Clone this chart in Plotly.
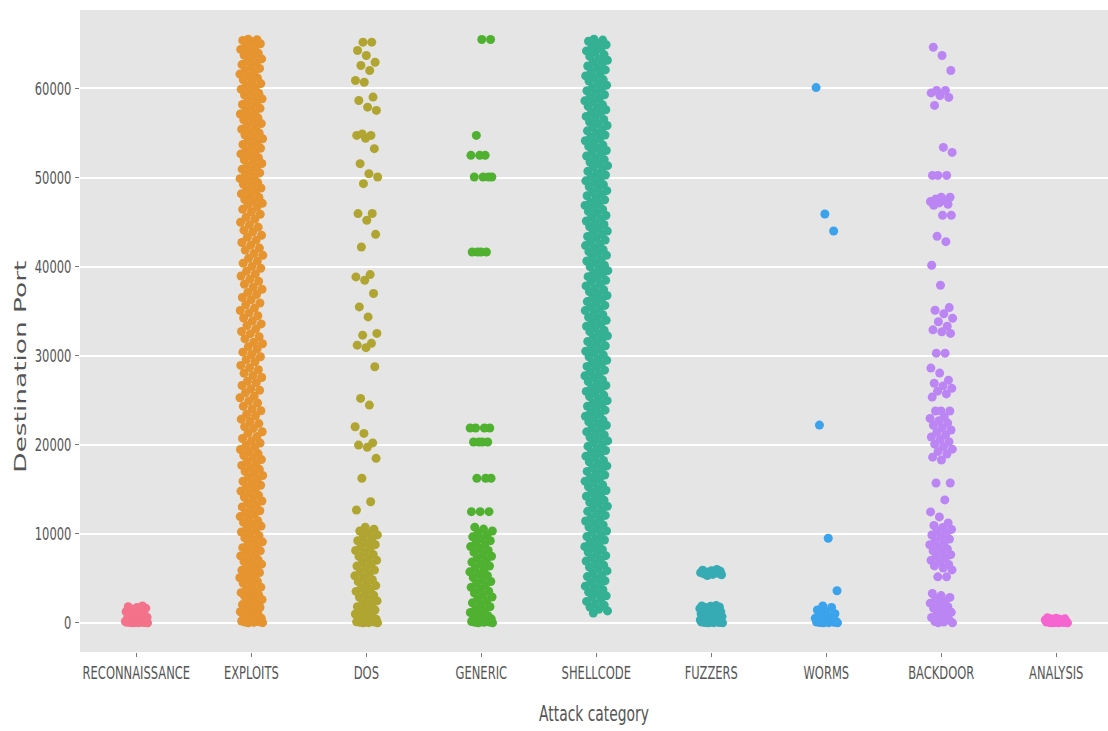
import plotly.graph_objects as go

# Attack categories on the x axis and their marker colours
categories = ["RECONNAISSANCE", "EXPLOITS", "DOS", "GENERIC", "SHELLCODE",
              "FUZZERS", "WORMS", "BACKDOOR", "ANALYSIS"]
palette = ["#f4728a", "#e5942f", "#b0a530", "#50b131", "#34b093",
           "#37abb4", "#3ba3ec", "#bb85f4", "#f564d0"]

# Destination ports observed for each attack category
reconnaissance_ports = [0, 0, 21, 22, 23, 25, 53, 53, 80, 80, 111, 135, 139, 143,
                        161, 199, 389, 443, 445, 500, 514, 587, 631, 873, 993,
                        1025, 1110, 1241, 1433, 1521, 1645, 1723, 1812, 1900]

exploits_ports = [
    0, 21, 53, 80, 111, 143, 199, 389, 445, 513, 631, 802, 993, 1080, 1241, 1433,
    1521, 1723, 1900, 2049, 2121, 2381, 2598, 2727, 3000, 3128, 3306, 3389, 3632,
    3817, 4000, 4243, 4444, 4659, 4848, 5060, 5190, 5432, 5631, 5800, 5900, 6112,
    6379, 6588, 6667, 6881, 7070, 7292, 7510, 7741, 8000, 8080, 8283, 8443, 8654,
    8888, 9090, 9325, 9532, 9784, 9999, 10203, 10431, 10616, 10862, 11055, 11274,
    11460, 11711, 11925, 12174, 12345, 12581, 12790, 13011, 13240, 13465, 13677,
    13912, 14128, 14337, 14580, 14791, 15002, 15236, 15441, 15680, 15893, 16112,
    16334, 16548, 16790, 17001, 17232, 17445, 17676, 17890, 18112, 18330, 18574,
    18790, 19004, 19230, 19459, 19687, 19903,
    20180, 20395, 20702, 20911, 21290, 21455, 21830, 22014, 22367, 22610, 22871,
    23240, 23415, 23809, 24033, 24320, 24688, 24901, 25277, 25430, 25812, 26105,
    26290, 26644, 26960, 27133, 27550, 27781, 28020, 28412, 28650, 28903, 29311,
    29540, 29876, 30140, 30388, 30760, 30985, 31330, 31502, 31877, 32120, 32468,
    32711, 33010, 33390, 33562, 33905, 34230, 34478, 34810, 35066, 35340, 35702,
    35911, 36280, 36533, 36870, 37104, 37455, 37690, 38012, 38340, 38571, 38944,
    39180, 39466, 39812, 40030, 40377, 40620, 40930, 41266, 41480, 41850, 42077,
    42390, 42705, 42960, 43288, 43513, 43870, 44092, 44430, 44688, 44975, 45310,
    45544, 45877, 46120, 46431, 46702, 46910,
    47105, 47318, 47522, 47760, 47951, 48170, 48392, 48580, 48815, 49020, 49233,
    49441, 49667, 49870, 50096, 50301, 50518, 50730, 50944, 51159, 51362, 51580,
    51790, 52003, 52221, 52430, 52651, 52860, 53071, 53290, 53498, 53714, 53925,
    54140, 54352, 54567, 54780, 54993, 55208, 55420, 55633, 55848, 56060, 56275,
    56488, 56700, 56914, 57128, 57340, 57555, 57768, 57980, 58195, 58410, 58622,
    58836, 59050, 59263, 59477, 59690, 59904, 60118, 60330, 60545, 60758, 60970,
    61186, 61400, 61612, 61826, 62040, 62253, 62466, 62680, 62894, 63107, 63320,
    63534, 63748, 63961, 64175, 64388, 64600, 64815, 65028, 65240, 65389, 65480,
    65535]

dos_ports = [
    0, 0, 21, 53, 80, 80, 111, 143, 199, 389, 445, 520, 631, 802, 993, 1080, 1241,
    1433, 1645, 1812, 2049, 2233, 2458, 2660, 2875, 3090, 3306, 3530, 3744, 3960,
    4180, 4396, 4620, 4833, 5060, 5271, 5490, 5712, 5931, 6150, 6367, 6588, 6803,
    7020, 7245, 7460, 7681, 7900, 8118, 8340, 8556, 8777, 8995, 9214, 9432, 9650,
    9871, 10088, 10304, 10520, 10740,
    12670, 13600, 16230, 18470, 19700, 19960, 20200, 21270, 22020, 24450, 25200,
    28750, 30900, 31180, 31380, 32300, 32500, 34350, 35470, 36980, 38470, 38840,
    39100, 42200, 43620, 45200, 45950, 45960, 49310, 50060, 50430, 51560, 53240,
    54400, 54730, 54730, 54900, 57540, 57900, 58650, 59030, 60700, 60900, 62020,
    62580, 62950, 63700, 64260, 65200, 65200]

generic_ports = [
    0, 0, 53, 53, 80, 111, 143, 199, 311, 445, 520, 631, 793, 1000, 1164, 1373,
    1590, 1801, 2030, 2242, 2455, 2680, 2894, 3110, 3333, 3547, 3766, 3980, 4200,
    4419, 4636, 4850, 5073, 5290, 5508, 5725, 5944, 6160, 6380, 6600, 6815, 7035,
    7250, 7470, 7690, 7906, 8125, 8343, 8560, 8780, 8998, 9215, 9436, 9652, 9870,
    10090, 10307, 10525, 10740,
    12480, 12480, 12480, 16230, 16230, 16230, 20300, 20300, 20300, 20300,
    21870, 21870, 21870, 21870, 41640, 41640, 41640, 41640, 50060, 50060, 50060,
    50060, 52490, 52490, 52490, 54730, 65500, 65500]

shellcode_ports = [
    1104, 1335, 1513, 1777, 1976, 2118, 2405, 2610, 2861, 3027, 3250, 3440, 3714,
    3872, 4113, 4325, 4544, 4729, 4989, 5192, 5339, 5620, 5829, 6075, 6246, 6474,
    6660, 6930, 7092, 7328, 7544, 7769, 7950, 8209, 8405, 8555, 8838, 9039, 9294,
    9462, 9682, 9875, 10152, 10307, 10551, 10760, 10993, 11169, 11431, 11632,
    11777, 12062, 12269, 12518, 12681, 12907, 13095, 13367, 13527, 13766, 13980,
    14209, 14392, 14658, 14855, 14995, 15284, 15487, 15740, 15910, 16131, 16323,
    16599, 16755, 16998, 17208, 17439, 17618, 17881, 18081, 18224, 18510, 18716,
    18966, 19131, 19355, 19544, 19817, 19976, 20216, 20429, 20656, 20838, 21099,
    21297, 21445, 21729, 21933, 22185, 22352, 22574, 22765, 23040, 23197, 23439,
    23650, 23880, 24057, 24322, 24520, 24661, 24949, 25154, 25405, 25571, 25794,
    25984, 26258, 26416, 26657, 26869, 27088, 27273, 27533, 27736, 27883, 28164,
    28373, 28619, 28790, 29018, 29204, 29474, 29636, 29872, 30088, 30313, 30494,
    30753, 30949, 31099, 31382, 31583, 31838, 32006, 32226, 32419, 32696, 32851,
    33095, 33304, 33537, 33713, 33975, 34176, 34321, 34606, 34813, 35062, 35225,
    35451, 35639, 35911, 36071, 36310, 36524, 36753, 36936, 37202, 37399, 37539,
    37828, 38031, 38284, 38454, 38675, 38867, 39143, 39299, 39542, 39752, 39983,
    40162, 40425, 40625, 40768, 41054, 41260, 41510, 41675, 41899, 42088, 42361,
    42520, 42760, 42973, 43200, 43382, 43643, 43841, 43989, 44273, 44477, 44729,
    44896, 45118, 45309, 45584, 45741, 45983, 46194, 46424, 46601, 46866, 47064,
    47205, 47493, 47698, 47949, 48115, 48338, 48528, 48802, 48960, 49201, 49413,
    49632, 49817, 50077, 50280, 50427, 50708, 50917, 51163, 51334, 51562, 51748,
    52018, 52180, 52416, 52632, 52857, 53038, 53297, 53493, 53643, 53926, 54127,
    54382, 54550, 54770, 54963, 55240, 55395, 55639, 55848, 56081, 56257, 56519,
    56720, 56865, 57150, 57357, 57606, 57769, 57995, 58183, 58455, 58615, 58854,
    59068, 59297, 59480, 59746, 59943, 60083, 60372, 60575, 60828, 60998, 61219,
    61411, 61687, 61843, 62086, 62296, 62527, 62706, 62969, 63169, 63312, 63598,
    63804, 64054, 64219, 64443, 64632, 64905, 65064, 65304, 65432, 65535]

fuzzers_ports = [
    0, 0, 21, 23, 25, 53, 80, 111, 135, 139, 143, 179, 199, 254, 311, 389, 443,
    445, 500, 514, 587, 631, 700, 765, 873, 902, 993, 1024, 1080, 1166, 1241, 1300,
    1433, 1490, 1521, 1600, 1645, 1723, 1790, 1863, 1900, 1935,
    5300, 5400, 5432, 5500, 5555, 5600, 5631, 5666, 5700, 5800, 5850, 5900, 6000]

worms_ports = [0, 0, 21, 25, 53, 80, 80, 111, 135, 139, 143, 199, 311, 445, 514,
               631, 873, 1024, 1241, 1433, 1723, 1900,
               3600, 9500, 22200, 44000, 45900, 60100]

backdoor_ports = [
    0, 0, 80, 139, 311, 445, 600, 789, 995, 1190, 1402, 1630, 1815, 2003, 2210,
    2420, 2644, 2850, 3061, 3290, 5160, 5160,
    5940, 6150, 6390, 6555, 6810, 7020, 7230, 7466, 7650, 7890, 8075, 8300, 8510,
    8760, 8950, 9180, 9400, 9620, 9855, 10040, 10270, 10490, 10700, 10930, 11210,
    11890, 12450, 13800, 15700, 15700,
    18280, 18600, 18950, 19230, 19500, 19800, 20060, 20330, 20580, 20860, 21100,
    21390, 21650, 21900, 22180, 22430, 22700, 22950, 23100, 23780, 23780, 23780,
    25350, 25700, 26010, 26330, 26600, 26900, 27250, 28040, 28600, 30280, 30280,
    32500, 32670, 32900, 33300, 33800, 34200, 34700, 35100, 35400,
    37900, 40150, 42800, 43400, 45760, 45760,
    46880, 47000, 47150, 47300, 47450, 47600, 47780, 47780,
    50240, 50240, 50240, 52820, 53380, 58100, 59000, 59200, 59500, 59780, 59780,
    62020, 63700, 64630]

analysis_ports = [0, 0, 0, 21, 25, 53, 80, 80, 111, 135, 139, 143, 199, 256, 311,
                  389, 443, 445, 514, 555]

ports_by_category = [reconnaissance_ports, exploits_ports, dos_ports,
                     generic_ports, shellcode_ports, fuzzers_ports, worms_ports,
                     backdoor_ports, analysis_ports]

# Horizontal spread of each strip (in category units) and the
# low-discrepancy step used to place points across it
JITTER = 0.1
GOLDEN = 0.6180339887

fig = go.Figure()
for i, (name, ports, color) in enumerate(zip(categories, ports_by_category, palette)):
    ys = sorted(ports)
    xs = [i + ((k * GOLDEN + 0.37) % 1.0 - 0.5) * 2 * JITTER for k in range(len(ys))]
    fig.add_trace(go.Scatter(
        x=xs, y=ys, mode="markers", name=name, showlegend=False,
        marker=dict(color=color, size=9, line=dict(width=0)),
    ))

text_grey = "#555555"
tick_font = dict(family="DejaVu Sans", size=18, color=text_grey)

fig.update_layout(
    template="none",
    width=1108, height=731,
    margin=dict(l=80, r=0, t=10, b=79),
    paper_bgcolor="white",
    plot_bgcolor="#E5E5E5",
    showlegend=False,
    xaxis=dict(
        range=[-0.49, 8.45], tickmode="array", tickvals=list(range(len(categories))),
        ticktext=categories, tickangle=0, showgrid=False, zeroline=False,
        showline=False, ticks="outside", ticklen=4, tickwidth=1,
        tickcolor="#777777", tickfont=tick_font, automargin=False,
        title=dict(text="Attack category",
                   font=dict(family="DejaVu Sans", size=22, color=text_grey),
                   standoff=24),
    ),
    yaxis=dict(
        range=[-3277, 68812], tickmode="linear", tick0=0, dtick=10000,
        tickformat="d", showgrid=True, gridcolor="white", gridwidth=1.8,
        zeroline=False, showline=False,
        ticks="outside", ticklen=4, tickwidth=1, tickcolor="#777777",
        tickfont=tick_font, automargin=False,
    ),
    annotations=[dict(
        text="Destination Port", textangle=-90, showarrow=False,
        xref="paper", yref="paper", x=-0.0574, y=0.4455,
        xanchor="center", yanchor="middle",
        font=dict(family="DejaVu Sans", size=16, color=text_grey),
    )],
)

# Narrow the horizontal labels and stretch the rotated y title lengthwise
label_shape_js = """
function fitText(sel, factor, fixed) {
  document.querySelectorAll(sel).forEach(function (t) {
    var w = fixed ? fixed : t.getComputedTextLength() * factor;
    t.setAttribute('textLength', w.toFixed(1));
    t.setAttribute('lengthAdjust', 'spacingAndGlyphs');
  });
}
fitText('.xtick text', 0.64);
fitText('.ytick text', 0.64);
fitText('.xtitle', 0.63);
fitText('.annotation-text', 1, 212);
"""
fig.write_html("out.html", post_script=label_shape_js)
